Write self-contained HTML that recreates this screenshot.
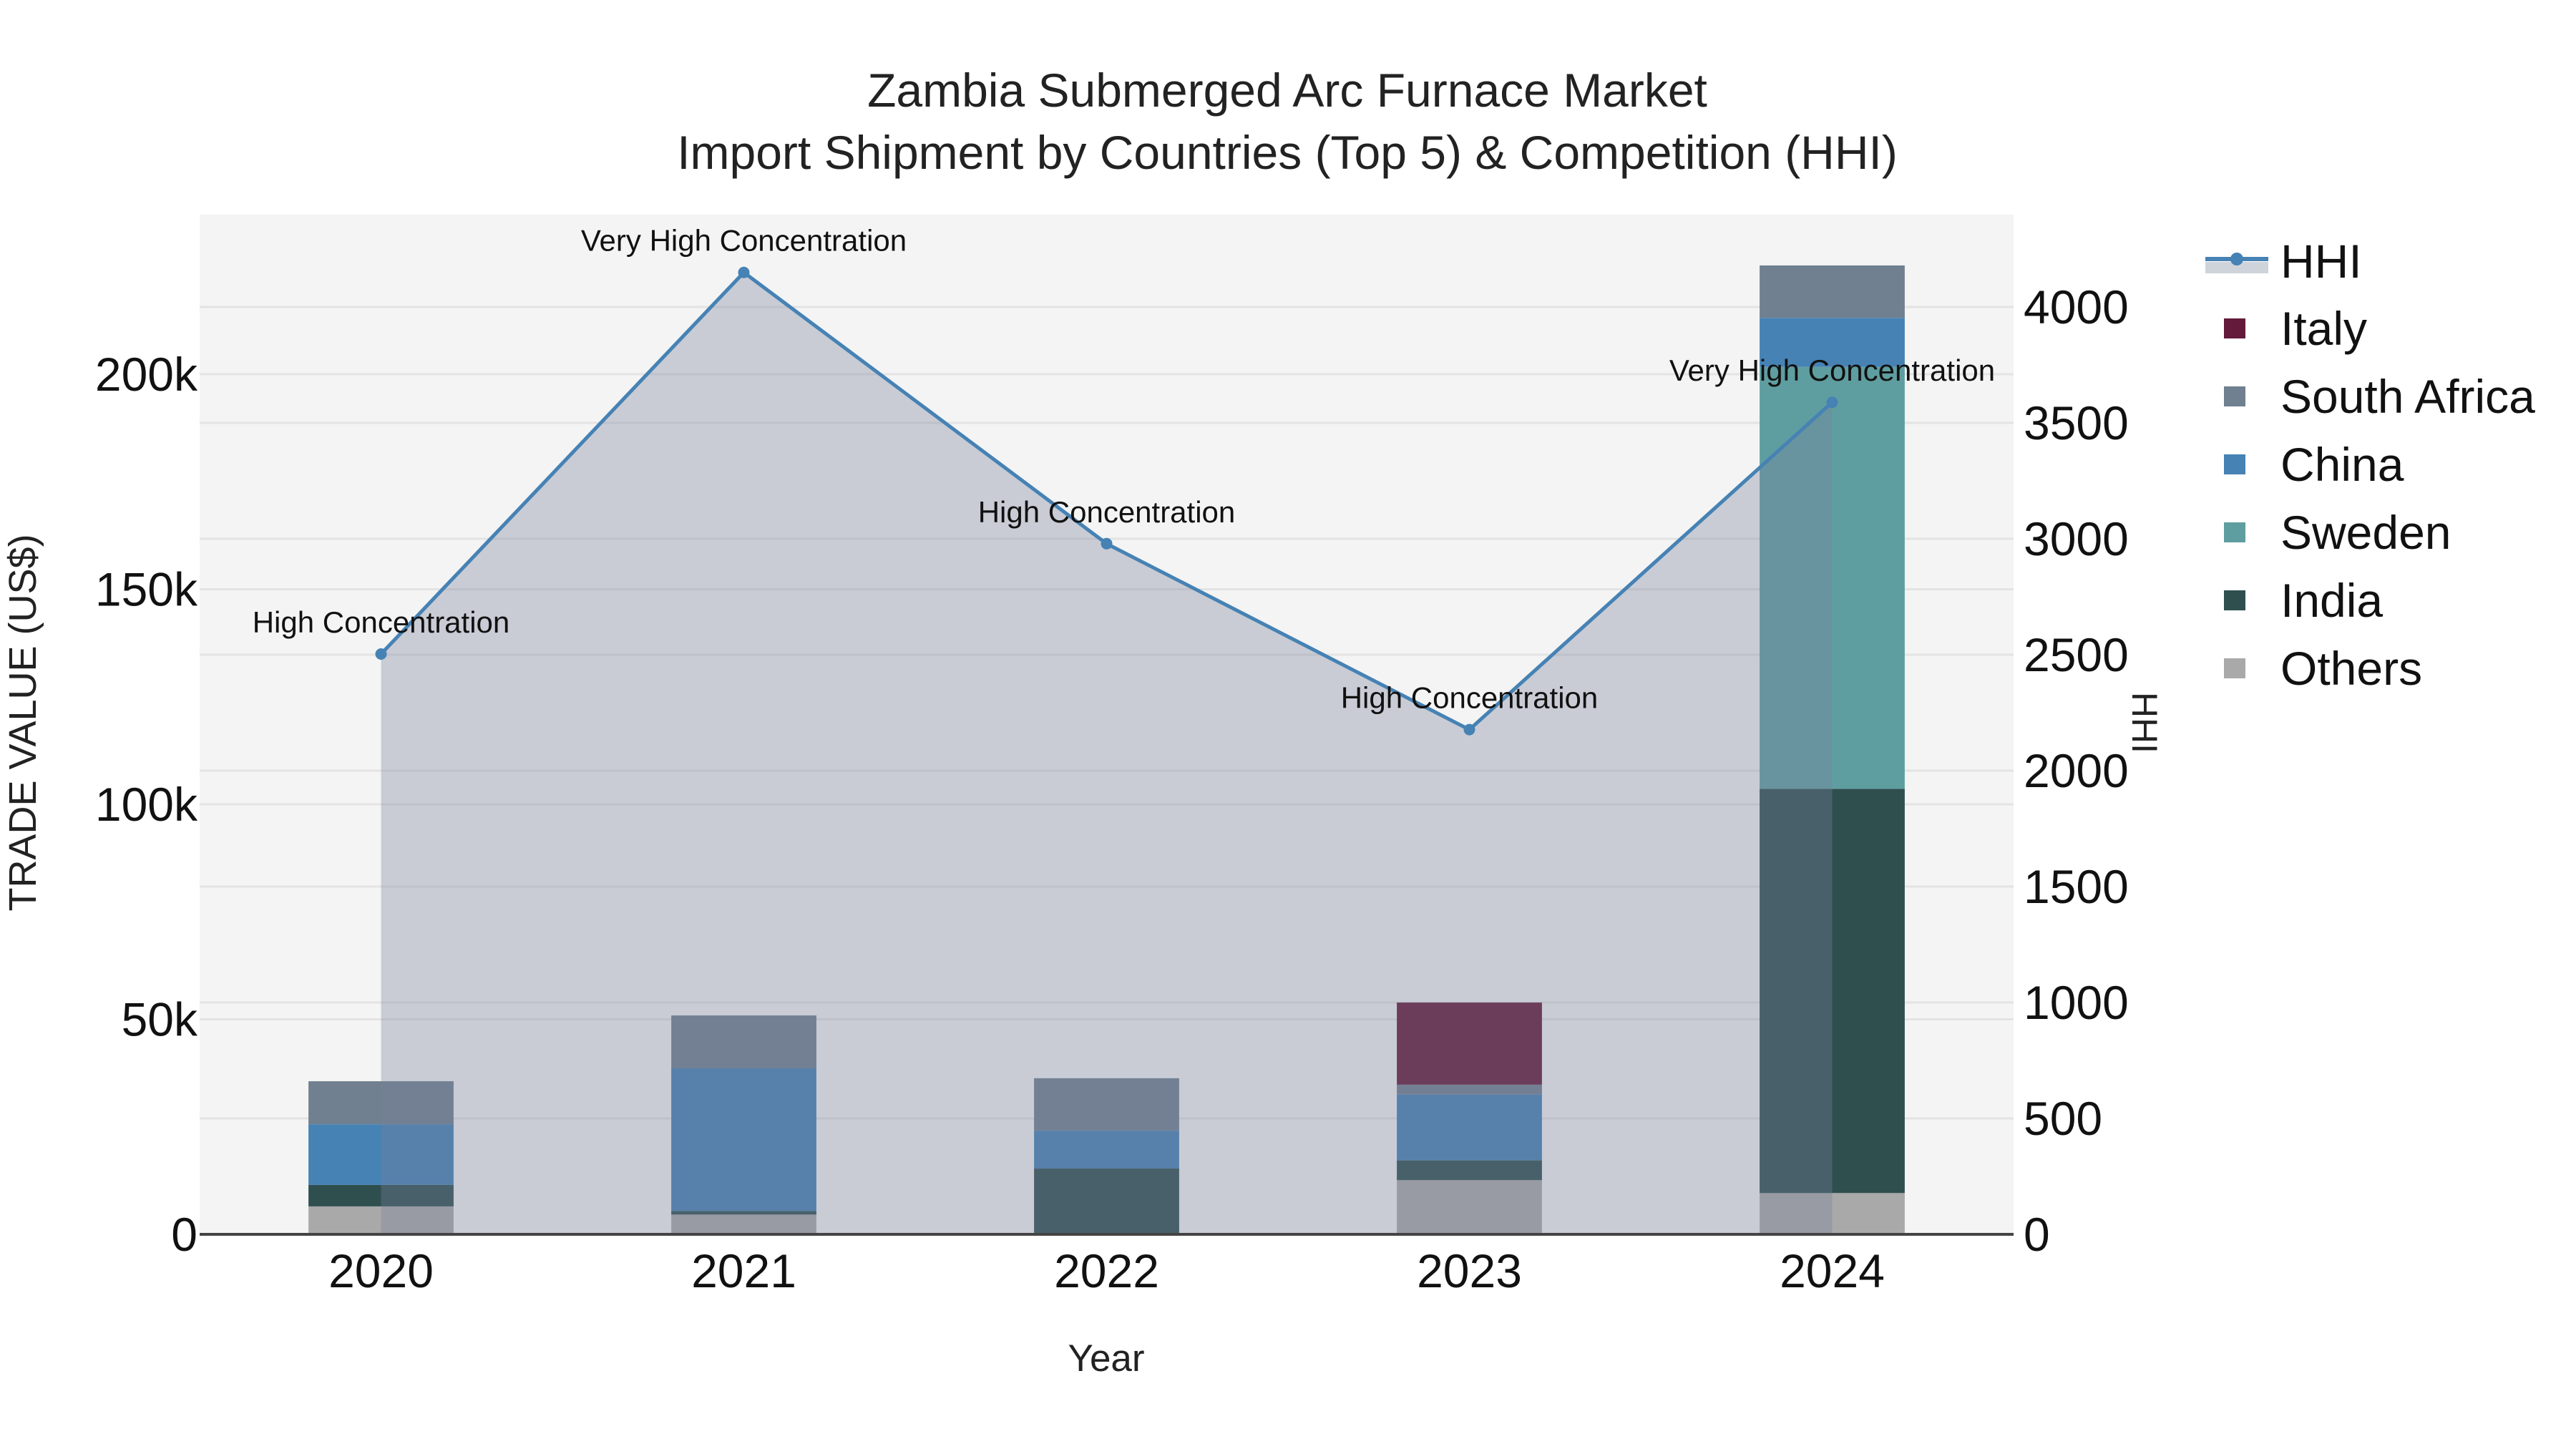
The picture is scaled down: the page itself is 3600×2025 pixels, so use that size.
<!DOCTYPE html>
<html><head><meta charset="utf-8">
<style>
html,body{margin:0;padding:0;background:#fff;}
svg{display:block;font-family:"Liberation Sans",Arial,sans-serif;}
</style></head>
<body>
<svg id="chart" width="3600" height="2025" viewBox="0 0 3600 2025" xmlns="http://www.w3.org/2000/svg">
  <rect x="0" y="0" width="3600" height="2025" fill="#ffffff"/>
  <rect x="279" y="300" width="2535" height="1425" fill="#f4f4f4"/>
  <g id="grid"></g>
  <g id="bars"></g>
  <g id="hhi"></g>
  <line x1="279" y1="1725" x2="2814" y2="1725" stroke="#444" stroke-width="4"/>
  <g id="axes"></g>
  <text x="1799" y="149" text-anchor="middle" font-size="66" fill="#222">Zambia Submerged Arc Furnace Market</text>
  <text x="1799" y="236" text-anchor="middle" font-size="66" fill="#222">Import Shipment by Countries (Top 5) &amp; Competition (HHI)</text>
  <text x="1546" y="1916" text-anchor="middle" font-size="53" fill="#222">Year</text>
  <text transform="translate(50,1010) rotate(-90)" text-anchor="middle" font-size="54" fill="#222">TRADE VALUE (US$)</text>
  <text transform="translate(2980,1010) rotate(90)" text-anchor="middle" font-size="50" fill="#222">HHI</text>
  <g id="legend"></g>
</svg>
<script>
const years = ["2020","2021","2022","2023","2024"];
const others = [6500, 4600, 0, 12600, 9600];
const india = [5000, 800, 15300, 4600, 94000];
const sweden = [0, 0, 0, 0, 98100];
const china = [14100, 33200, 8800, 15300, 11400];
const southAfrica = [10000, 12300, 12200, 2300, 12200];
const italy = [0, 0, 0, 19100, 0];
const hhi = [2503, 4149, 2979, 2177, 3589];
const hhiLabels = ["High Concentration","Very High Concentration","High Concentration","High Concentration","Very High Concentration"];
const yTicks = [0, 50000, 100000, 150000, 200000];
const yTickLabels = ["0","50k","100k","150k","200k"];
const y2Ticks = [0,500,1000,1500,2000,2500,3000,3500,4000];
const y2TickLabels = ["0","500","1000","1500","2000","2500","3000","3500","4000"];

const NS="http://www.w3.org/2000/svg";
const PL=279, PR=2814, PT=300, PB=1725;
const step=(PR-PL)/years.length;
function xPos(i){return PL+step*(i+0.5);}
function yPos(v){return PB-v*6.01/1000;}
function y2Pos(v){return PB-v*0.324;}
function mk(tag,attrs,parent){const e=document.createElementNS(NS,tag);for(const k in attrs)e.setAttribute(k,attrs[k]);parent.appendChild(e);return e;}

const grid=document.getElementById('grid');
yTicks.forEach((t,i)=>{ if(t===0)return;
  const l=mk('line',{x1:PL,x2:PR,y1:yPos(t),y2:yPos(t),stroke:'#e3e3e3','stroke-width':3},grid);
  
  
});
y2Ticks.forEach((t,i)=>{ if(t===0)return;
  const l=mk('line',{x1:PL,x2:PR,y1:y2Pos(t),y2:y2Pos(t),stroke:'#e3e3e3','stroke-width':3},grid);
  
  
});

const series=[
  {name:'others',vals:others,color:'#a9a9a9'},
  {name:'india',vals:india,color:'#2f4f4f'},
  {name:'sweden',vals:sweden,color:'#5f9ea0'},
  {name:'china',vals:china,color:'#4682b4'},
  {name:'south-africa',vals:southAfrica,color:'#708090'},
  {name:'italy',vals:italy,color:'#641a3a'}
];
const bars=document.getElementById('bars');
const bw=step*0.4;
years.forEach((y,i)=>{
  let base=0;
  series.forEach(s=>{
    const v=s.vals[i]; if(v<=0)return;
    const r=mk('rect',{x:xPos(i)-bw/2,y:yPos(base+v),width:bw,height:yPos(base)-yPos(base+v),fill:s.color},bars);
    
    
    base+=v;
  });
});

const hg=document.getElementById('hhi');
let d='M'+xPos(0)+','+PB;
hhi.forEach((v,i)=>{d+=' L'+xPos(i)+','+y2Pos(v);});
d+=' L'+xPos(hhi.length-1)+','+PB+' Z';
const area=mk('path',{d:d,fill:'rgba(120,130,155,0.35)'},hg);


const pts=hhi.map((v,i)=>xPos(i)+','+y2Pos(v)).join(' ');
const line=mk('polyline',{points:pts,fill:'none',stroke:'#4682b4','stroke-width':5},hg);


hhi.forEach((v,i)=>{
  const c=mk('circle',{cx:xPos(i),cy:y2Pos(v),r:8,fill:'#4682b4'},hg);
  
  
  const t=mk('text',{x:xPos(i),y:y2Pos(v)-30,'text-anchor':'middle','font-size':42,fill:'#111'},hg);
  t.textContent=hhiLabels[i];
  
  
});

const axes=document.getElementById('axes');
yTicks.forEach((t,i)=>{
  const e=mk('text',{x:276,y:yPos(t)+23,'text-anchor':'end','font-size':66,fill:'#111'},axes);
  e.textContent=yTickLabels[i];
  
  
});
y2Ticks.forEach((t,i)=>{
  const e=mk('text',{x:2828,y:y2Pos(t)+23,'text-anchor':'start','font-size':66,fill:'#111'},axes);
  e.textContent=y2TickLabels[i];
  
  
});
years.forEach((y,i)=>{
  const e=mk('text',{x:xPos(i),y:1799,'text-anchor':'middle','font-size':66,fill:'#111'},axes);
  e.textContent=y;
  
  
});

const lg=document.getElementById('legend');
const legendItems=[['Italy','#641a3a'],['South Africa','#708090'],['China','#4682b4'],['Sweden','#5f9ea0'],['India','#2f4f4f'],['Others','#a9a9a9']];
const hb=mk('rect',{x:3082,y:366,width:88,height:16,fill:'#cfd4db'},lg);


const hl=mk('line',{x1:3082,x2:3170,y1:362,y2:362,stroke:'#4682b4','stroke-width':6},lg);


const hc=mk('circle',{cx:3126,cy:362,r:9,fill:'#4682b4'},lg);


const ht=mk('text',{x:3187,y:388,'font-size':66,fill:'#111'},lg);
ht.textContent='HHI';


legendItems.forEach((it,i)=>{
  const cy=459+i*95;
  const s=mk('rect',{x:3108,y:cy-14,width:30,height:28,fill:it[1]},lg);
  
  
  const t=mk('text',{x:3187,y:cy+23,'font-size':66,fill:'#111'},lg);
  t.textContent=it[0];
  
  
});
</script>
</body></html>
